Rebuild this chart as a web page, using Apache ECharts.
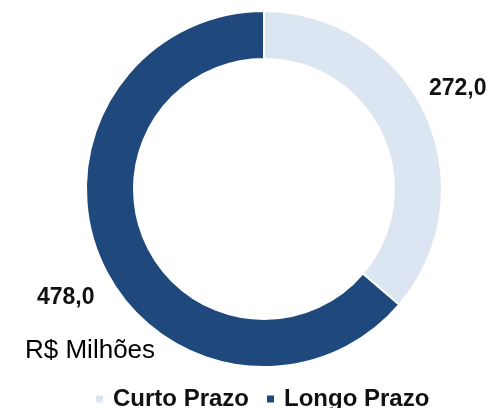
<!DOCTYPE html>
<html>
<head>
<meta charset="utf-8">
<script src="https://cdn.jsdelivr.net/npm/echarts@6/dist/echarts.min.js"></script>
<style>
    html, body { margin: 0; padding: 0; background: #fff; }
    #divida-chart { width: 496px; height: 408px; }
</style>
</head>
<body>
<div id="divida-chart"></div>
<script>
    // valores em R$ milhões
    var categorias = ['Curto Prazo', 'Longo Prazo'];
    var valores = [272.0, 478.0];
    var cores = ['#DCE6F2', '#1F497D'];

    var chart = echarts.init(document.getElementById('divida-chart'));

    var dados = [];
    for (var i = 0; i < categorias.length; i++) {
        dados.push({ name: categorias[i], value: valores[i], itemStyle: { color: cores[i] } });
    }

    // onde o Excel colocou os rótulos
    var posRotulos = [
        { x: 429, y: 89 },
        { x: 37, y: 298 }
    ];

    var option = {
        animation: false,
        textStyle: { fontFamily: "'Liberation Sans', Arial, sans-serif" },
        title: {
            text: 'R$ Milhões',
            left: 20,
            top: 333,
            textStyle: { fontSize: 26, fontWeight: 'normal', color: '#000' }
        },
        legend: {
            data: categorias,
            left: 89,
            top: 382,
            icon: 'rect',
            itemWidth: 9,
            itemHeight: 9,
            itemGap: 16,
            textStyle: { fontSize: 24, fontWeight: 'bold', color: '#111', padding: [0, 0, 0, 4] }
        },
        series: [
            {
                type: 'pie',
                center: [264, 189],
                radius: [130, 178],
                startAngle: 90,
                clockwise: true,
                itemStyle: { borderColor: '#fff', borderWidth: 2 },
                label: {
                    show: true,
                    position: 'outside',
                    alignTo: 'none',
                    overflow: 'none',
                    fontSize: 23,
                    fontWeight: 'bold',
                    color: '#111',
                    formatter: function (p) {
                        return p.value.toFixed(1).replace('.', ',');
                    }
                },
                labelLine: { show: false },
                labelLayout: function (params) {
                    var p = posRotulos[params.dataIndex];
                    return { x: p.x, y: p.y, align: 'left', verticalAlign: 'middle', hideOverlap: false };
                },
                emphasis: { disabled: true },
                data: dados
            }
        ]
    };

    chart.setOption(option);
</script>
</body>
</html>
